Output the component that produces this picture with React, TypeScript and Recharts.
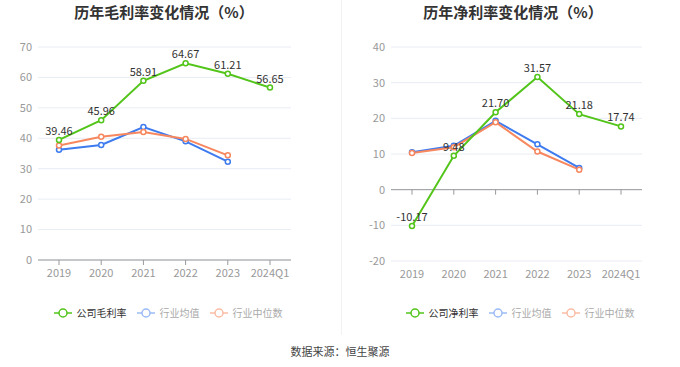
import { CartesianGrid, LabelList, Line, LineChart, ReferenceLine, XAxis, YAxis } from "recharts";

const years = ["2019", "2020", "2021", "2022", "2023", "2024Q1"];

const grossCompany = [39.46, 45.96, 58.91, 64.67, 61.21, 56.65];
const grossIndustryAvg = [36.2, 37.8, 43.7, 39.0, 32.3, null];
const grossIndustryMedian = [37.6, 40.5, 42.1, 39.8, 34.4, null];

const netCompany = [-10.17, 9.48, 21.7, 31.57, 21.18, 17.74];
const netIndustryAvg = [10.5, 12.3, 19.3, 12.7, 6.1, null];
const netIndustryMedian = [10.3, 11.9, 18.9, 10.7, 5.6, null];

const grossTicks = [0, 10, 20, 30, 40, 50, 60, 70];
const netTicks = [-20, -10, 0, 10, 20, 30, 40];

const GREEN = "#52c41a";
const BLUE = "#3e7bef";
const ORANGE = "#f7875f";
const FONT = '"Noto Sans CJK SC", "Noto Sans", sans-serif';

function buildRows(company: number[], avg: (number | null)[], median: (number | null)[]) {
  return years.map((year, i) => ({ year, company: company[i], avg: avg[i], median: median[i] }));
}

const grossRows = buildRows(grossCompany, grossIndustryAvg, grossIndustryMedian);
const netRows = buildRows(netCompany, netIndustryAvg, netIndustryMedian);

const tickStyle = { fill: "#999", fontSize: 11, fontFamily: FONT };

function dot(color: string) {
  return { r: 2.5, stroke: color, strokeWidth: 1.5, fill: "#fff" };
}

function LegendIcon({ color }: { color: string }) {
  return (
    <svg width={18} height={10} style={{ display: "block" }}>
      <line x1={0} y1={5} x2={18} y2={5} stroke={color} strokeWidth={1.5} />
      <circle cx={9} cy={5} r={4} stroke={color} strokeWidth={1.5} fill="#fff" />
    </svg>
  );
}

function Legend({ first, left }: { first: string; left: number }) {
  const items = [
    { label: first, color: GREEN, text: "#333" },
    { label: "行业均值", color: "#9bbbf6", text: "#aaa" },
    { label: "行业中位数", color: "#fbbca4", text: "#aaa" },
  ];
  return (
    <div
      style={{
        position: "absolute",
        left,
        top: 305,
        width: 240,
        display: "flex",
        justifyContent: "center",
        gap: 10,
        fontSize: 10,
        fontFamily: FONT,
        lineHeight: "16px",
      }}
    >
      {items.map((it) => (
        <div key={it.label} style={{ display: "flex", alignItems: "center", gap: 5, color: it.text }}>
          <LegendIcon color={it.color} />
          <span>{it.label}</span>
        </div>
      ))}
    </div>
  );
}

function Title({ text, center }: { text: string; center: number }) {
  return (
    <div
      style={{
        position: "absolute",
        left: center - 120,
        width: 240,
        top: 2,
        textAlign: "center",
        fontSize: 15,
        fontWeight: 700,
        color: "#333",
        fontFamily: FONT,
        lineHeight: "20px",
      }}
    >
      {text}
    </div>
  );
}

function lines() {
  return [
    <Line key="avg" dataKey="avg" stroke={BLUE} strokeWidth={2} dot={dot(BLUE)} activeDot={false} isAnimationActive={false} />,
    <Line key="median" dataKey="median" stroke={ORANGE} strokeWidth={2} dot={dot(ORANGE)} activeDot={false} isAnimationActive={false} />,
    <Line key="company" dataKey="company" stroke={GREEN} strokeWidth={2} dot={dot(GREEN)} activeDot={false} isAnimationActive={false}>
      <LabelList dataKey="company" position="top" offset={5} fill="#333" fontSize={11} fontFamily={FONT} formatter={(v: number) => v.toFixed(2)} />
    </Line>,
  ];
}

export default function App() {
  return (
    <div style={{ position: "absolute", left: 0, top: 0, width: 680, height: 367, background: "#fff", overflow: "hidden" }}>
      <Title text="历年毛利率变化情况（%）" center={164} />
      <Title text="历年净利率变化情况（%）" center={513} />

      <div style={{ position: "absolute", left: 0, top: 0 }}>
        <LineChart width={340} height={290} data={grossRows} margin={{ top: 47, right: 49, bottom: 0, left: 0 }}>
          <CartesianGrid vertical={false} stroke="#e8ecf4" />
          <XAxis
            dataKey="year"
            height={30}
            padding={{ left: 21, right: 21 }}
            tick={tickStyle}
            tickSize={5}
            tickMargin={4}
            axisLine={{ stroke: "#999" }}
            tickLine={{ stroke: "#999" }}
            interval={0}
          />
          <YAxis width={38} domain={[0, 70]} ticks={grossTicks} tick={tickStyle} tickMargin={0} axisLine={false} tickLine={false} />
          {lines()}
        </LineChart>
      </div>

      <div style={{ position: "absolute", left: 340, top: 0 }}>
        <LineChart width={340} height={290} data={netRows} margin={{ top: 47, right: 38, bottom: 0, left: 0 }}>
          <CartesianGrid vertical={false} stroke="#e8ecf4" />
          <XAxis
            dataKey="year"
            height={29}
            padding={{ left: 21, right: 21 }}
            tick={tickStyle}
            tickSize={5}
            tickMargin={4}
            axisLine={false}
            tickLine={false}
            interval={0}
          />
          <YAxis width={51} domain={[-20, 40]} ticks={netTicks} tick={tickStyle} tickMargin={0} axisLine={false} tickLine={false} />
          <ReferenceLine y={0} stroke="#999" />
          {years.map((y) => (
            <ReferenceLine
              key={y}
              segment={[
                { x: y, y: 0 },
                { x: y, y: -1.4 },
              ]}
              stroke="#999"
            />
          ))}
          {lines()}
        </LineChart>
      </div>

      <div style={{ position: "absolute", left: 341, top: 0, width: 1, height: 335, background: "#f2f2f2" }} />

      <Legend first="公司毛利率" left={48} />
      <Legend first="公司净利率" left={400} />

      <div
        style={{
          position: "absolute",
          left: 0,
          width: 680,
          top: 343,
          textAlign: "center",
          fontSize: 11,
          color: "#444",
          fontFamily: FONT,
          lineHeight: "16px",
        }}
      >
        数据来源：恒生聚源
      </div>
    </div>
  );
}
